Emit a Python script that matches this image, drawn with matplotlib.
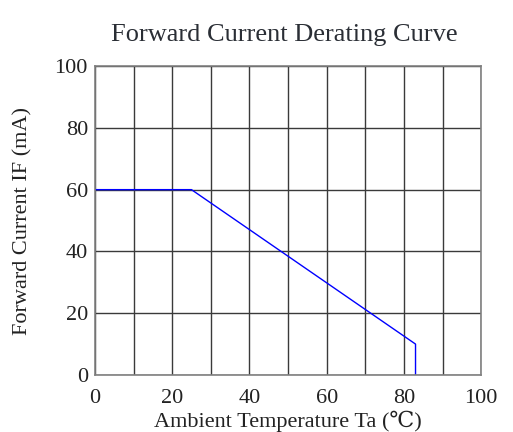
import matplotlib
matplotlib.use("Agg")
import matplotlib.pyplot as plt
import numpy as np

# derating curve points
temp = [0, 25, 83, 83]
current = [60, 60, 10, 0]

xticks = [0, 20, 40, 60, 80, 100]
yticks = [0, 20, 40, 60, 80, 100]

plt.rcParams['font.family'] = ['Liberation Serif', 'DejaVu Serif']

fig = plt.figure(figsize=(5.13, 4.32), dpi=100)
ax = fig.add_axes([0.185, 0.132, 0.753, 0.715])

ax.plot(temp, current, color='#0000ff', linewidth=1)

ax.set_xlim(0, 100)
ax.set_ylim(0, 100)
ax.set_xticks(np.arange(0, 101, 10), minor=True)
ax.set_xticks(xticks)
ax.set_yticks(yticks)
ax.grid(which='both', axis='x', color='#3a3a3a', linewidth=1)
ax.grid(which='major', axis='y', color='#3a3a3a', linewidth=1)
ax.tick_params(which='both', length=0, labelsize=16, colors='#222222')
ax.tick_params(axis='x', pad=10)
ax.tick_params(axis='y', pad=5)
for s in ax.spines.values():
    s.set_color('#808080')
    s.set_linewidth(1.2)

ax.set_xlabel('Ambient Temperature Ta (\u2103)', fontsize=16, color='#222222')
ax.xaxis.set_label_coords(0.5, -0.115)
ax.set_ylabel('Forward Current IF (mA)', fontsize=16, color='#222222')
ax.yaxis.set_label_coords(-0.162, 0.5)
fig.text(0.554, 0.92, 'Forward Current Derating Curve', ha='center', va='center',
         fontsize=19, color='#2a2e35')

fig.savefig('out.png', dpi=100)
